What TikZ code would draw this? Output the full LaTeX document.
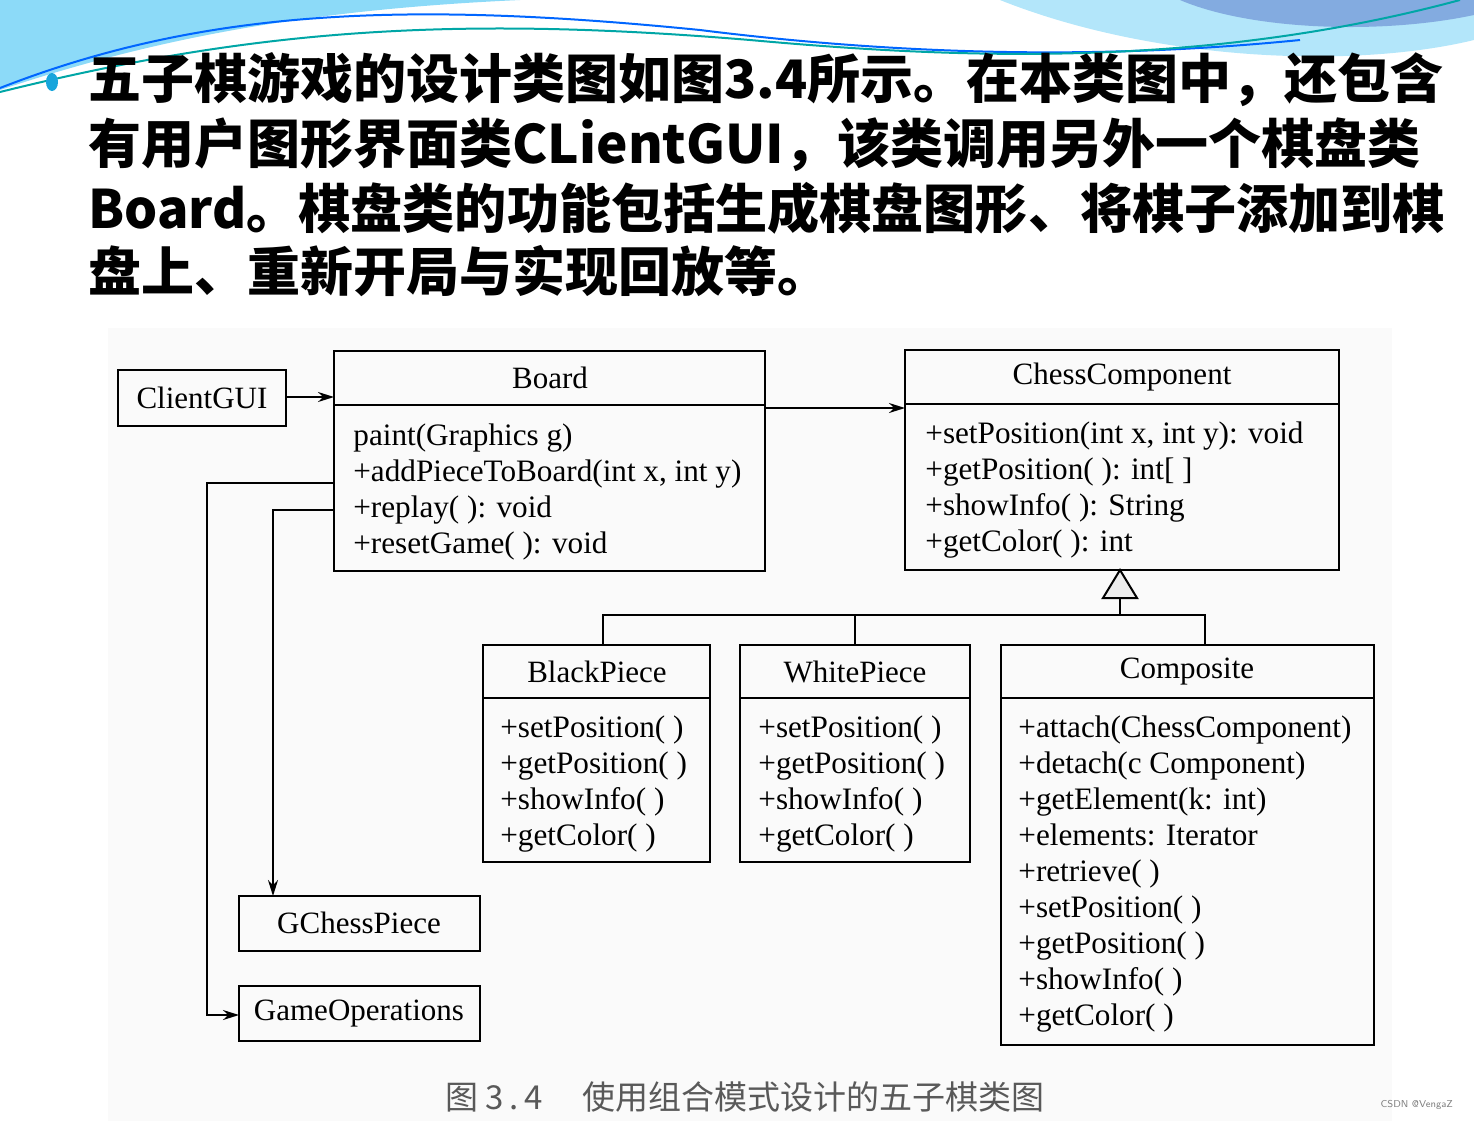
\documentclass[tikz,border=0pt]{standalone}
\usepackage{fontspec}
\setmainfont{Liberation Serif}
\newfontfamily\cjk{Noto Sans CJK SC}
\usetikzlibrary{arrows.meta}
\begin{document}
\begin{tikzpicture}[x=0.5pt,y=-0.5pt,
  box/.style={draw,line width=1.2pt},
  ln/.style={line width=1pt},
  arr/.style={ln,-{Stealth[length=8pt,width=5pt]}},
  ttl/.style={font=\fontsize{15.5}{18}\selectfont,anchor=center},
  mem/.style={font=\fontsize{15.6}{18}\selectfont,anchor=north west,align=left,inner sep=0pt},
  body/.style={font=\cjk\bfseries\fontsize{26.5}{30}\selectfont,anchor=west,inner sep=0pt}]
\useasboundingbox (0,0) rectangle (1474,1121);
% top decoration
\fill[cyan!45!white] (0,0) -- (0,90) .. controls (150,40) and (300,10) .. (520,0) -- cycle;
\fill[cyan!30!white] (1000,0) .. controls (1150,60) and (1350,70) .. (1474,40) -- (1474,0) -- cycle;
\fill[cyan!55!blue!50!white] (1180,0) .. controls (1250,30) and (1380,35) .. (1474,15) -- (1474,0) -- cycle;
\draw[blue!60!cyan,line width=1pt] (0,88) .. controls (200,10) and (400,0) .. (700,30) .. controls (900,55) and (1100,60) .. (1300,40);
\draw[teal!70!cyan,line width=1pt] (0,92) .. controls (250,30) and (450,15) .. (750,40) .. controls (950,58) and (1200,70) .. (1460,0);
\fill[cyan!80!teal] (52,82) ellipse (6 and 9);
% body text
\node[body] (l1) at (88,80) {五子棋游戏的设计类图如图3.4所示。在本类图中，还包含};
\node[body] (l2) at (88,145) {有用户图形界面类CLientGUI，该类调用另外一个棋盘类};
\node[body,xscale=0.983,transform shape] (l3) at (88,208) {Board。棋盘类的功能包括生成棋盘图形、将棋子添加到棋};
\node[body] (l4) at (88,271) {盘上、重新开局与实现回放等。};
% diagram background
\fill[gray!4] (108,328) rectangle (1392,1121);
% boxes
\draw[box] (118,370) rectangle (286,426);
\node[ttl] (cg) at (202,398) {ClientGUI};
\draw[box] (334,351) rectangle (765,571); \draw[box] (334,405) -- (765,405);
\node[ttl] (bd) at (550,378) {Board};
\node[mem] at (353,423) {paint(Graphics g)\\+addPieceToBoard(int x, int y)\\+replay( ): void\\+resetGame( ): void};
\draw[box] (905,350) rectangle (1339,570); \draw[box] (905,404) -- (1339,404);
\node[ttl] (cc) at (1122,377) {ChessComponent};
\node[mem] at (925,421) {+setPosition(int x, int y): void\\+getPosition( ): int[ ]\\+showInfo( ): String\\+getColor( ): int};
\draw[box] (483,645) rectangle (710,862); \draw[box] (483,698) -- (710,698);
\node[ttl] (bp) at (597,672) {BlackPiece};
\node[mem] at (500,715) {+setPosition( )\\+getPosition( )\\+showInfo( )\\+getColor( )};
\draw[box] (740,645) rectangle (970,862); \draw[box] (740,698) -- (970,698);
\node[ttl] (wp) at (855,672) {WhitePiece};
\node[mem] at (758,715) {+setPosition( )\\+getPosition( )\\+showInfo( )\\+getColor( )};
\draw[box] (1001,645) rectangle (1374,1045); \draw[box] (1001,698) -- (1374,698);
\node[ttl] (cp) at (1187,672) {Composite};
\node[mem] at (1018,715) {+attach(ChessComponent)\\+detach(c Component)\\+getElement(k: int)\\+elements: Iterator\\+retrieve( )\\+setPosition( )\\+getPosition( )\\+showInfo( )\\+getColor( )};
\draw[box] (239,896) rectangle (480,951);
\node[ttl] (gc) at (359,923) {GChessPiece};
\draw[box] (239,986) rectangle (480,1041);
\node[ttl] (go) at (359,1014) {GameOperations};
% connectors
\coordinate (cgr) at (286,397);
\draw[arr] (cgr) -- (334,397);
\draw[arr] (765,408) -- (905,408);
\draw[ln] (1120,598) -- (1120,615);
\draw[ln] (603,645) -- (603,615) -- (1205,615) -- (1205,645);
\draw[ln] (855,615) -- (855,645);
\draw[ln,fill=gray!15] (1120,570) -- (1103,598) -- (1137,598) -- cycle;
\draw[arr] (334,483) -- (207,483) -- (207,1015) -- (239,1015);
\draw[arr] (334,510) -- (273,510) -- (273,896);
% caption
\node[font=\cjk\fontsize{16.5}{18}\selectfont,text=gray!70!black] (cap) at (745,1097) {图\ 3\,.\,4\quad\ 使用组合模式设计的五子棋类图};
\node[font=\sffamily\fontsize{5}{6}\selectfont,text=gray,anchor=east] (wm) at (1460,1105) {CSDN @VengaZ};
\end{tikzpicture}
\end{document}
